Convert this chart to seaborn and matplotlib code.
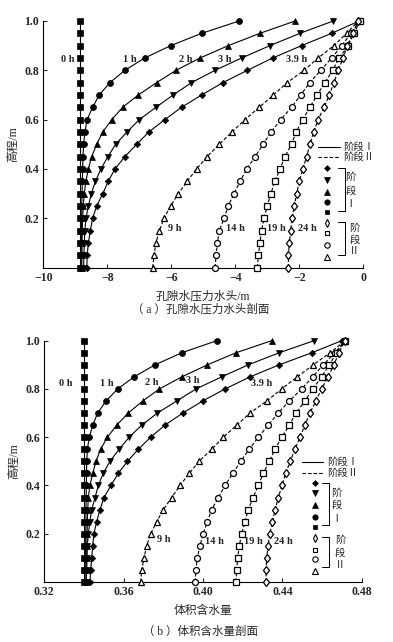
import numpy as np
import pandas as pd
import seaborn as sns
import matplotlib.pyplot as plt

# heights of the measuring points (m)
height = [0.00, 0.05, 0.10, 0.15, 0.20, 0.25, 0.30, 0.35, 0.40, 0.45, 0.50,
          0.55, 0.60, 0.65, 0.70, 0.75, 0.80, 0.85, 0.90, 0.95, 1.00]

times_1 = ['0 h', '1 h', '2 h', '3 h', '3.9 h']
times_2 = ['9 h', '14 h', '19 h', '24 h']

# (a) pore water pressure head (m), bottom -> top
head_0h = [-8.85, -8.85, -8.85, -8.85, -8.85, -8.85, -8.85, -8.85, -8.85, -8.85, -8.85,
           -8.85, -8.85, -8.85, -8.85, -8.85, -8.85, -8.85, -8.85, -8.85, -8.85]
head_1h = [-8.82, -8.82, -8.81, -8.81, -8.80, -8.80, -8.79, -8.78, -8.77, -8.76, -8.74,
           -8.70, -8.63, -8.46, -8.25, -7.92, -7.45, -6.83, -6.02, -5.05, -3.88]
head_2h = [-8.80, -8.79, -8.79, -8.78, -8.77, -8.75, -8.72, -8.67, -8.59, -8.49, -8.33,
           -8.14, -7.86, -7.52, -7.03, -6.46, -5.85, -5.10, -4.22, -3.23, -2.13]
head_3h = [-8.74, -8.73, -8.72, -8.70, -8.67, -8.59, -8.50, -8.37, -8.20, -7.98, -7.74,
           -7.38, -7.00, -6.48, -5.94, -5.37, -4.63, -3.80, -2.92, -1.98, -0.94]
head_39h = [-8.64, -8.63, -8.59, -8.53, -8.46, -8.33, -8.14, -7.97, -7.76, -7.45, -7.08,
            -6.70, -6.20, -5.68, -5.05, -4.39, -3.62, -2.83, -1.93, -0.99, -0.13]
head_9h = [-6.58, -6.54, -6.48, -6.37, -6.23, -6.02, -5.78, -5.50, -5.21, -4.88, -4.50,
           -4.10, -3.70, -3.25, -2.81, -2.38, -1.85, -1.41, -0.92, -0.52, -0.16]
head_14h = [-4.63, -4.60, -4.56, -4.50, -4.35, -4.22, -4.04, -3.85, -3.64, -3.38, -3.13,
            -2.88, -2.58, -2.24, -1.96, -1.67, -1.33, -0.99, -0.67, -0.39, -0.10]
head_19h = [-3.31, -3.28, -3.23, -3.18, -3.10, -3.00, -2.89, -2.76, -2.60, -2.45, -2.24,
            -2.10, -1.89, -1.67, -1.44, -1.20, -0.96, -0.75, -0.47, -0.29, -0.10]
head_24h = [-2.34, -2.34, -2.31, -2.27, -2.22, -2.16, -2.08, -2.00, -1.89, -1.77, -1.67,
            -1.55, -1.41, -1.23, -1.06, -0.92, -0.78, -0.63, -0.50, -0.33, -0.16]

# (b) volumetric water content, bottom -> top
theta_0h = [0.340, 0.340, 0.340, 0.340, 0.340, 0.340, 0.340, 0.340, 0.340, 0.340, 0.340,
            0.340, 0.340, 0.340, 0.340, 0.340, 0.340, 0.340, 0.340, 0.340, 0.340]
theta_1h = [0.3405, 0.3406, 0.3407, 0.3408, 0.3409, 0.3410, 0.3410, 0.3411, 0.3412, 0.3413, 0.3414,
            0.3417, 0.3427, 0.3444, 0.3469, 0.3511, 0.3570, 0.3652, 0.3758, 0.3893, 0.4069]
theta_2h = [0.3412, 0.3413, 0.3414, 0.3415, 0.3416, 0.3417, 0.3419, 0.3422, 0.3430, 0.3444, 0.3461,
            0.3484, 0.3518, 0.3565, 0.3623, 0.3696, 0.3780, 0.3893, 0.4022, 0.4166, 0.4346]
theta_3h = [0.3412, 0.3413, 0.3415, 0.3417, 0.3422, 0.3430, 0.3439, 0.3456, 0.3472, 0.3497, 0.3531,
            0.3577, 0.3628, 0.3691, 0.3770, 0.3867, 0.3965, 0.4094, 0.4228, 0.4384, 0.4559]
theta_39h = [0.3430, 0.3434, 0.3439, 0.3444, 0.3450, 0.3464, 0.3481, 0.3501, 0.3536, 0.3573, 0.3619,
             0.3674, 0.3736, 0.3808, 0.3898, 0.3998, 0.4111, 0.4237, 0.4384, 0.4548, 0.4699]
theta_9h = [0.3686, 0.3691, 0.3703, 0.3716, 0.3736, 0.3767, 0.3800, 0.3842, 0.3884, 0.3931, 0.3980,
            0.4044, 0.4102, 0.4170, 0.4237, 0.4321, 0.4397, 0.4475, 0.4556, 0.4641, 0.4716]
theta_14h = [0.3960, 0.3965, 0.3971, 0.3985, 0.4001, 0.4022, 0.4044, 0.4077, 0.4111, 0.4150, 0.4190,
             0.4233, 0.4279, 0.4329, 0.4379, 0.4435, 0.4497, 0.4553, 0.4606, 0.4665, 0.4716]
theta_19h = [0.4166, 0.4170, 0.4175, 0.4183, 0.4195, 0.4212, 0.4228, 0.4253, 0.4279, 0.4304, 0.4334,
             0.4363, 0.4397, 0.4435, 0.4469, 0.4514, 0.4553, 0.4598, 0.4636, 0.4674, 0.4716]
theta_24h = [0.4318, 0.4318, 0.4321, 0.4328, 0.4337, 0.4350, 0.4364, 0.4380, 0.4398, 0.4417, 0.4440,
             0.4464, 0.4489, 0.4514, 0.4539, 0.4569, 0.4598, 0.4630, 0.4660, 0.4685, 0.4716]

head = [head_0h, head_1h, head_2h, head_3h, head_39h, head_9h, head_14h, head_19h, head_24h]
theta = [theta_0h, theta_1h, theta_2h, theta_3h, theta_39h, theta_9h, theta_14h, theta_19h, theta_24h]

# label anchor (x, height) for each time curve, per panel
head_lab = [(-9.01, 0.845), (-7.29, 0.845), (-5.56, 0.845), (-4.32, 0.845), (-2.09, 0.845),
            (-5.88, 0.158), (-3.98, 0.158), (-2.73, 0.158), (-1.75, 0.158)]
theta_lab = [(0.3340, 0.821), (0.3515, 0.821), (0.3741, 0.828), (0.3950, 0.835), (0.4296, 0.821),
             (0.3800, 0.174), (0.4060, 0.167), (0.4253, 0.167), (0.4405, 0.167)]

times = times_1 + times_2
markers = ['s', 'o', '^', 'v', 'D', '^', 'o', 's', 'd']
msizes = [3.8, 4.3, 4.5, 4.5, 3.3, 4.5, 4.3, 3.8, 4.3]

sns.set_theme(style='ticks')
plt.rcParams['font.family'] = ['Liberation Serif', 'Noto Sans CJK SC']
plt.rcParams['axes.unicode_minus'] = True

fig = plt.figure(figsize=(3.93, 6.42), dpi=100)
ax1 = fig.add_axes([0.1102, 0.5833, 0.8142, 0.384])
ax2 = fig.add_axes([0.1127, 0.0935, 0.8076, 0.3758])


def draw_panel(ax, series, labels):
    for i, t in enumerate(times):
        df = pd.DataFrame({'x': series[i], 'h': height})
        stage2 = t in times_2
        face = 'white' if stage2 else 'black'
        ls = (0, (3.2, 1.8)) if stage2 else '-'
        sns.lineplot(data=df, x='x', y='h', orient='y', sort=False, estimator=None,
                     color='black', lw=0.8, linestyle=ls, marker=markers[i],
                     markersize=msizes[i], markerfacecolor=face, markeredgecolor='black',
                     markeredgewidth=0.9 if stage2 else 0.5, clip_on=False, zorder=3, ax=ax)
        ax.text(labels[i][0], labels[i][1], t, ha='right' if i == 0 else 'center',
                va='center', fontsize=7.5, fontweight='bold')
    ax.set_ylim(0, 1.0)
    ax.set_yticks([0.2, 0.4, 0.6, 0.8, 1.0])
    ax.set_yticklabels(['0.2', '0.4', '0.6', '0.8', '1.0'])
    ax.set_ylabel('高程/m', fontsize=8.5, labelpad=4)
    ax.tick_params(direction='in', length=3, width=0.8, labelsize=8.5, pad=3)
    for lab in ax.get_xticklabels() + ax.get_yticklabels():
        lab.set_fontweight('bold')
    sns.despine(ax=ax)
    for s in ['left', 'bottom']:
        ax.spines[s].set_linewidth(0.8)
        ax.spines[s].set_color('black')


def draw_key(ax, x0, x1, xt, y_solid, y_dash, xm, ym, xb, xtick, br1, br2, tx1, ty1, tx2, ty2):
    tr = ax.transAxes
    ax.plot([x0, x1], [y_solid, y_solid], color='black', lw=0.8, transform=tr, clip_on=False)
    ax.plot([x0, x1], [y_dash, y_dash], color='black', lw=0.8, ls=(0, (3.2, 1.8)),
            transform=tr, clip_on=False)
    ax.text(xt, y_solid, '阶段Ⅰ', transform=tr, va='center', ha='left', fontsize=7.5)
    ax.text(xt, y_dash, '阶段Ⅱ', transform=tr, va='center', ha='left', fontsize=7.5)
    order = [4, 3, 2, 1, 0, 8, 7, 6, 5]
    for k, i in enumerate(order):
        stage2 = k >= 5
        ax.plot([xm], [ym[k]], marker=markers[i], ms=msizes[i] * 0.9, ls='none',
                mfc='white' if stage2 else 'black', mec='black',
                mew=0.8 if stage2 else 0.5, transform=tr, clip_on=False)
    for (yb0, yb1) in [br1, br2]:
        ax.plot([xtick, xb, xb, xtick], [yb0, yb0, yb1, yb1], color='black', lw=0.7,
                transform=tr, clip_on=False)
    for ch, yy in zip(['阶', '段', 'Ⅰ'], ty1):
        ax.text(tx1, yy, ch, transform=tr, ha='center', va='center', fontsize=7.5)
    for ch, yy in zip(['阶', '段', 'Ⅱ'], ty2):
        ax.text(tx2, yy, ch, transform=tr, ha='center', va='center', fontsize=7.5)


draw_panel(ax1, head, head_lab)
ax1.set_xlim(-10, 0)
ax1.set_xticks([-10, -8, -6, -4, -2, 0])
ax1.set_xlabel('孔隙水压力水头/m', fontsize=8.5, labelpad=5)
draw_key(ax1, 0.858, 0.927, 0.936, 0.489, 0.448, 0.886,
         [0.404, 0.355, 0.308, 0.267, 0.224, 0.182, 0.139, 0.091, 0.044],
         0.943, 0.922, (0.404, 0.230), (0.186, 0.051),
         0.960, [0.367, 0.310, 0.257], 0.972, [0.159, 0.111, 0.067])

draw_panel(ax2, theta, theta_lab)
ax2.set_xlim(0.32, 0.48)
ax2.set_xticks([0.32, 0.36, 0.40, 0.44, 0.48])
ax2.set_xticklabels(['0.32', '0.36', '0.40', '0.44', '0.48'])
for lab in ax2.get_xticklabels():
    lab.set_fontweight('bold')
ax2.set_xlabel('体积含水量', fontsize=8.5, labelpad=5)
draw_key(ax2, 0.811, 0.879, 0.890, 0.498, 0.452, 0.853,
         [0.409, 0.368, 0.319, 0.271, 0.227, 0.181, 0.133, 0.094, 0.047],
         0.898, 0.874, (0.412, 0.236), (0.188, 0.063),
         0.921, [0.370, 0.319, 0.257], 0.932, [0.174, 0.121, 0.070])

fig.text(0.51, 1 - 310 / 642, '（ a ）孔隙水压力水头剖面', ha='center', va='center', fontsize=8.3)
fig.text(0.51, 1 - 632 / 642, '（ b ）体积含水量剖面', ha='center', va='center', fontsize=8.3)

fig.savefig('out.png', dpi=100)
